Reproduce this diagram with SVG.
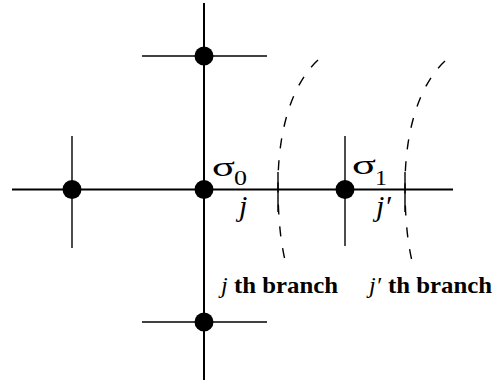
<svg xmlns="http://www.w3.org/2000/svg" width="503" height="388" viewBox="0 0 503 388">
<style>
.ln{stroke:#000;stroke-width:2;fill:none}
.thin{stroke:#000;stroke-width:1.4;fill:none}
.dash{stroke:#000;stroke-width:1.4;fill:none;stroke-dasharray:10 12}
.dot{fill:#000}
.t{font-family:"Liberation Serif","Times New Roman",serif;fill:#000}
.it{font-style:italic}
.b{font-weight:bold}
</style>
<rect width="503" height="388" fill="#fff"/>
<g id="connectors">
<line class="ln" x1="204" y1="3" x2="204" y2="380"/>
<line class="ln" x1="12" y1="189.5" x2="453" y2="189.5"/>
<line class="thin" x1="142" y1="56" x2="267" y2="56"/>
<line class="thin" x1="142" y1="322" x2="267" y2="322"/>
<line class="thin" x1="72" y1="136" x2="72" y2="248"/>
<line class="thin" x1="345" y1="136" x2="345" y2="246"/>
</g>
<g id="branch-j">
<path class="dash" d="M318,60 C292,84 278,130 278,185 C278,225 282,250 287,268"/>
<line class="thin" x1="278" y1="172" x2="278" y2="212"/>
</g>
<g id="branch-jp">
<path class="dash" d="M445,61 C419,85 405,131 405,186 C405,226 409,251 414,269"/>
<line class="thin" x1="405" y1="172" x2="405" y2="212"/>
</g>
<g id="node-top"><circle class="dot" cx="204" cy="56" r="9.5"/></g>
<g id="node-left"><circle class="dot" cx="72" cy="189.5" r="9.5"/></g>
<g id="node-sigma0">
<circle class="dot" cx="204" cy="189.5" r="9.5"/>
<text class="t" x="212" y="176" font-size="28" textLength="23" lengthAdjust="spacingAndGlyphs">σ</text>
<text class="t" x="234" y="185" font-size="22" textLength="13" lengthAdjust="spacingAndGlyphs">0</text>
<text class="t it" x="239" y="216" font-size="30">j</text>
</g>
<g id="node-sigma1">
<circle class="dot" cx="345" cy="189.5" r="9.5"/>
<text class="t" x="352" y="174" font-size="28" textLength="24" lengthAdjust="spacingAndGlyphs">σ</text>
<text class="t" x="375" y="185" font-size="22" textLength="12" lengthAdjust="spacingAndGlyphs">1</text>
<text class="t it" x="376" y="216" font-size="30">j′</text>
</g>
<g id="node-bottom"><circle class="dot" cx="204" cy="322" r="9.5"/></g>
<g id="label-j">
<text class="t" x="221" y="293" font-size="24"><tspan class="it">j</tspan><tspan class="b" x="234" textLength="104" lengthAdjust="spacingAndGlyphs">th branch</tspan></text>
</g>
<g id="label-jp">
<text class="t" x="369" y="293" font-size="24"><tspan class="it">j′</tspan><tspan class="b" x="388" textLength="104" lengthAdjust="spacingAndGlyphs">th branch</tspan></text>
</g>
</svg>
